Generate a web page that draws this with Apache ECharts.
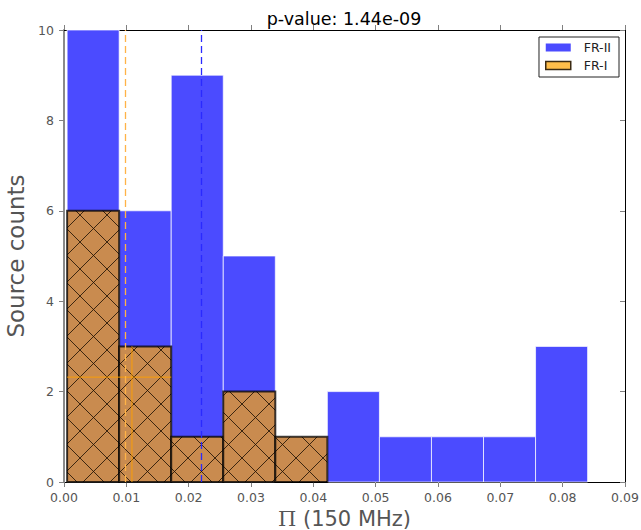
<!DOCTYPE html>
<html>
<head>
<meta charset="utf-8">
<script src="https://cdn.jsdelivr.net/npm/echarts@6/dist/echarts.min.js"></script>
<style>
  html, body { margin: 0; padding: 0; background: #fff; }
  #chart { width: 641px; height: 530px; }
</style>
</head>
<body>
<div id="chart"></div>
<script>
// Histogram bin edges on the polarisation fraction axis
const binEdges = [0.0005, 0.00885, 0.0172, 0.02555, 0.0339, 0.04225, 0.0506, 0.05895, 0.0673, 0.07565, 0.084];
// Source counts per bin
const frIICounts = [10, 6, 9, 5, 0, 2, 1, 1, 1, 3];
const frICounts  = [6, 3, 1, 2, 1, 0, 0, 0, 0, 0];
// Median polarisation fraction of each class (dashed lines)
const frIIMedian = 0.0220;
const frIMedian  = 0.0099;
// Thin guide lines inside the FR-I bars
const frIGuideX = 0.0109;
const frIGuideTop = 3;
const frIGuideY = 2.32;
const frIGuideSpan = [0.0005, 0.0172];
// Axis ranges and ticks
const xRange = [0, 0.09];
const xStep = 0.01;
const yRange = [0, 10];
const yStep = 2;
const titleText = 'p-value: 1.44e-09';
const seriesNames = ['FR-II', 'FR-I'];

const FONT = 'DejaVu Sans';

// Cross-hatch tile for the FR-I bars
function hatchTile() {
  const T = 27;
  const c = document.createElement('canvas');
  c.width = T; c.height = T;
  const g = c.getContext('2d');
  g.fillStyle = '#c98b4f';
  g.fillRect(0, 0, T, T);
  g.strokeStyle = 'rgba(25,12,0,0.8)';
  g.lineWidth = 1;
  g.beginPath();
  for (const n of [-1, 0, 1]) {          // y = x + nT
    g.moveTo(-3, -3 + n * T);
    g.lineTo(T + 3, T + 3 + n * T);
  }
  for (const n of [0, 1, 2]) {           // y = -x - 2 + nT
    g.moveTo(-3, 1 + n * T);
    g.lineTo(T + 3, -T - 5 + n * T);
  }
  g.stroke();
  return c;
}

function binData(counts) {
  return counts.map((v, i) => [binEdges[i], binEdges[i + 1], v]);
}

function barRenderer(style) {
  return function (params, api) {
    const h = api.value(2);
    if (!h) return null;
    const p0 = api.coord([api.value(0), 0]);
    const p1 = api.coord([api.value(1), h]);
    return {
      type: 'rect',
      shape: { x: p0[0], y: p1[1], width: p1[0] - p0[0], height: p0[1] - p1[1] },
      style: style
    };
  };
}

// Guide segments as [x0, y0, x1, y1] in data units
const guideSegments = [
  [frIGuideX, 0, frIGuideX, frIGuideTop],
  [frIGuideSpan[0], frIGuideY, frIGuideSpan[1], frIGuideY]
];

function segmentRenderer(params, api) {
  const a = api.coord([api.value(0), api.value(1)]);
  const b = api.coord([api.value(2), api.value(3)]);
  return {
    type: 'line',
    shape: { x1: a[0], y1: a[1], x2: b[0], y2: b[1] },
    style: { stroke: '#ffa000', lineWidth: 1, opacity: 0.9 }
  };
}

const hatch = { image: hatchTile(), repeat: 'repeat' };
const tickColor = '#808080';
const labelColor = '#555555';

const chart = echarts.init(document.getElementById('chart'), null, { renderer: 'svg' });

chart.setOption({
  animation: false,
  backgroundColor: '#ffffff',
  grid: { left: 64, right: 16, top: 30, bottom: 48, containLabel: false, outerBoundsMode: 'none' },
  graphic: [{
    type: 'text',
    x: 344, y: 19,
    style: {
      text: titleText, textAlign: 'center', textVerticalAlign: 'middle',
      font: '17.5px "DejaVu Sans"', fill: '#000'
    }
  }],
  legend: {
    orient: 'vertical',
    right: 22, top: 37,
    itemWidth: 25, itemHeight: 8, itemGap: 5,
    padding: [4, 8, 5, 6],
    borderColor: '#222', borderWidth: 1, borderRadius: 0,
    backgroundColor: '#fff',
    textStyle: { fontFamily: FONT, fontSize: 12.5, color: '#222', padding: [0, 0, 0, 8] },
    data: [
      { name: seriesNames[0], icon: 'rect', itemStyle: { color: '#4b4bff', borderWidth: 0 } },
      { name: seriesNames[1], icon: 'rect', itemStyle: { color: '#ffbe4a', borderColor: '#3a2a12', borderWidth: 1.5 } }
    ]
  },
  xAxis: [{
    type: 'value', position: 'bottom',
    min: xRange[0], max: xRange[1], interval: xStep,
    axisLine: { onZero: false, lineStyle: { color: '#000', width: 1 } },
    axisTick: { show: true, length: 5, lineStyle: { color: tickColor } },
    axisLabel: { formatter: v => v.toFixed(2), color: labelColor, fontFamily: FONT, fontSize: 12.5, margin: 9 },
    splitLine: { show: false },
    name: '{pi|Π} (150 MHz)',
    nameLocation: 'middle', nameGap: 21,
    nameTextStyle: {
      fontFamily: FONT, fontSize: 21, lineHeight: 21, color: labelColor,
      rich: { pi: { fontFamily: 'DejaVu Serif', fontSize: 21, lineHeight: 21, color: labelColor } }
    }
  }, {
    type: 'value', position: 'top',
    min: xRange[0], max: xRange[1], interval: xStep,
    axisLine: { onZero: false, lineStyle: { color: '#000', width: 1 } },
    axisTick: { show: true, length: 5, lineStyle: { color: tickColor } },
    axisLabel: { show: false },
    splitLine: { show: false }
  }],
  yAxis: [{
    type: 'value', position: 'left',
    min: yRange[0], max: yRange[1], interval: yStep,
    axisLine: { show: true, onZero: false, lineStyle: { color: '#8a8a8a', width: 2 } },
    axisTick: { show: true, length: 5, lineStyle: { color: tickColor } },
    axisLabel: { color: labelColor, fontFamily: FONT, fontSize: 12.5, margin: 10 },
    splitLine: { show: false },
    name: 'Source counts',
    nameLocation: 'middle', nameGap: 35, nameRotate: 90,
    nameTextStyle: { fontFamily: FONT, fontSize: 23, color: labelColor }
  }, {
    type: 'value', position: 'right',
    min: yRange[0], max: yRange[1], interval: yStep,
    axisLine: { show: true, onZero: false, lineStyle: { color: '#000', width: 1 } },
    axisTick: { show: true, inside: true, length: 5, lineStyle: { color: tickColor } },
    axisLabel: { show: false },
    splitLine: { show: false }
  }],
  series: [{
    name: seriesNames[0],
    type: 'custom',
    xAxisIndex: 0, yAxisIndex: 0,
    encode: { x: [0, 1], y: 2 },
    itemStyle: { color: '#4b4bff' },
    renderItem: barRenderer({ fill: '#4b4bff', stroke: 'rgba(255,255,255,0.7)', lineWidth: 1 }),
    data: binData(frIICounts),
    z: 2
  }, {
    name: seriesNames[1],
    type: 'custom',
    xAxisIndex: 0, yAxisIndex: 0,
    encode: { x: [0, 1], y: 2 },
    itemStyle: { color: '#ffbe4a' },
    renderItem: barRenderer({ fill: hatch, stroke: 'rgba(0,0,0,0.75)', lineWidth: 2 }),
    data: binData(frICounts),
    z: 3
  }, {
    name: 'guides',
    type: 'custom',
    xAxisIndex: 0, yAxisIndex: 0,
    encode: { x: [0, 2], y: [1, 3] },
    renderItem: segmentRenderer,
    data: guideSegments,
    silent: true,
    z: 4
  }, {
    name: 'medians',
    type: 'line',
    xAxisIndex: 0, yAxisIndex: 0,
    data: [],
    z: 5,
    markLine: {
      silent: true, symbol: 'none', animation: false, precision: 6,
      label: { show: false },
      data: [
        { xAxis: frIMedian, lineStyle: { color: '#ffb347', width: 1.3, type: [7, 4] } },
        { xAxis: frIIMedian, lineStyle: { color: '#2a2aff', width: 1.3, type: [7, 4] } }
      ]
    }
  }]
});
</script>
</body>
</html>
